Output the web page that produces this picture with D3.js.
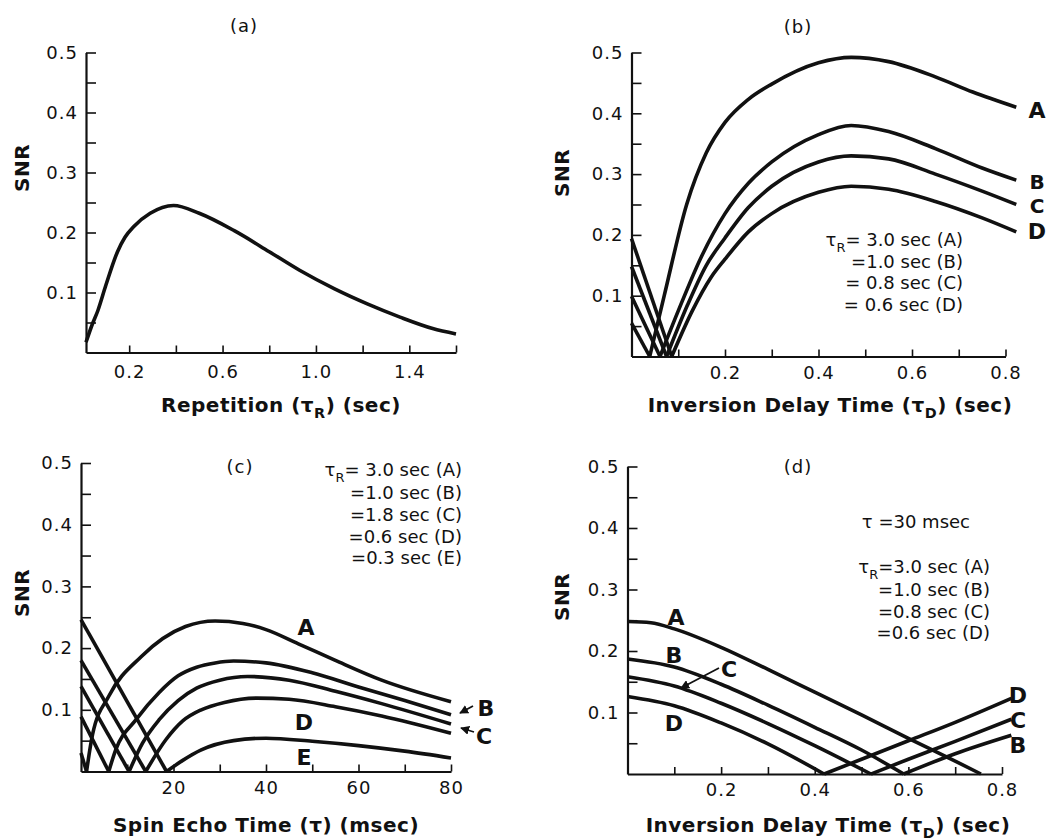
<!DOCTYPE html>
<html>
<head>
<meta charset="utf-8">
<script src="https://cdn.jsdelivr.net/npm/d3@7"></script>
<style>
    body { margin: 0; background: #fff; }
    svg { display: block; }
    .tick text { font-family: "DejaVu Sans", sans-serif; font-size: 18px; fill: #111; letter-spacing: 1px; }
    .tick line { stroke: #111; stroke-width: 1.6; }
    .domain { stroke: #111; stroke-width: 2.2; }
    .curve { fill: none; stroke: #111; stroke-width: 3.6; stroke-linejoin: round; }
    .title { font-family: "DejaVu Sans", sans-serif; font-size: 18px; fill: #111; letter-spacing: 1px; }
    .axis-title { font-family: "DejaVu Sans", sans-serif; font-weight: bold; font-size: 20px; fill: #111; letter-spacing: 0.5px; }
    .legend { font-family: "DejaVu Sans", sans-serif; font-size: 18px; fill: #111; }
    .tag { font-family: "DejaVu Sans", sans-serif; font-weight: bold; font-size: 22px; fill: #111; }
</style>
</head>
<body>
<svg id="chart" width="1050" height="840"></svg>
<script>
(function() {
    'use strict';

    // ---- (a) SNR vs repetition time
    const aTR  = [0.015, 0.04, 0.066, 0.1, 0.15, 0.182, 0.22, 0.29, 0.39, 0.5, 0.65, 0.8, 0.93, 1.08, 1.22, 1.36, 1.5, 1.6];
    const aSNR = [0.017, 0.045, 0.07, 0.112, 0.168, 0.192, 0.21, 0.232, 0.245, 0.232, 0.203, 0.168, 0.137, 0.106, 0.081, 0.059, 0.04, 0.031];

    // ---- (b) SNR vs inversion delay time, four repetition times
    const bTD_A  = [0, 0.039, 0.07, 0.118, 0.16, 0.2, 0.25, 0.3, 0.4, 0.47, 0.55, 0.65, 0.73, 0.823];
    const bSNR_A = [0.055, 0, 0.1, 0.25, 0.335, 0.385, 0.423, 0.448, 0.483, 0.492, 0.485, 0.46, 0.435, 0.41];
    const bTD_B  = [0, 0.061, 0.1, 0.15, 0.2, 0.25, 0.3, 0.4, 0.47, 0.55, 0.65, 0.75, 0.823];
    const bSNR_B = [0.099, 0, 0.075, 0.165, 0.235, 0.285, 0.32, 0.365, 0.38, 0.37, 0.342, 0.31, 0.29];
    const bTD_C  = [0, 0.075, 0.12, 0.16, 0.2, 0.25, 0.3, 0.4, 0.47, 0.55, 0.65, 0.75, 0.823];
    const bSNR_C = [0.148, 0, 0.085, 0.15, 0.195, 0.245, 0.28, 0.32, 0.33, 0.325, 0.3, 0.272, 0.25];
    const bTD_D  = [0, 0.086, 0.13, 0.17, 0.2, 0.25, 0.3, 0.4, 0.47, 0.55, 0.65, 0.75, 0.823];
    const bSNR_D = [0.194, 0, 0.075, 0.13, 0.16, 0.205, 0.235, 0.27, 0.28, 0.275, 0.255, 0.228, 0.205];

    // ---- (c) SNR vs spin echo time, five repetition times
    const cTE_A  = [0, 1.2, 2.5, 6, 13, 22.6, 29, 35, 40, 47, 55, 65, 80];
    const cSNR_A = [0.03, 0, 0.06, 0.122, 0.186, 0.235, 0.244, 0.24, 0.23, 0.207, 0.18, 0.148, 0.113];
    const cTE_B  = [0, 6, 7.5, 11.9, 16.9, 21, 25, 29, 33, 40, 50, 60, 70, 80];
    const cSNR_B = [0.089, 0, 0.035, 0.084, 0.128, 0.155, 0.169, 0.176, 0.179, 0.176, 0.16, 0.137, 0.115, 0.092];
    const cTE_C  = [0, 10.4, 13.3, 16.9, 21, 25, 30, 36, 45, 55, 65, 80];
    const cSNR_C = [0.138, 0, 0.046, 0.084, 0.115, 0.135, 0.148, 0.154, 0.148, 0.13, 0.11, 0.077];
    const cTE_D  = [0, 14, 18.3, 22, 26, 31, 38, 45, 55, 65, 80];
    const cSNR_D = [0.18, 0, 0.051, 0.082, 0.1, 0.112, 0.119, 0.117, 0.105, 0.09, 0.062];
    const cTE_E  = [0, 18.5, 22, 26, 33, 40, 50, 60, 70, 80];
    const cSNR_E = [0.246, 0, 0.018, 0.035, 0.05, 0.054, 0.049, 0.042, 0.033, 0.022];

    // ---- (d) SNR vs inversion delay time at tau = 30 msec
    const dTD_A  = [0, 0.05, 0.1, 0.2, 0.3, 0.4, 0.5, 0.6, 0.7, 0.755];
    const dSNR_A = [0.248, 0.246, 0.236, 0.206, 0.17, 0.133, 0.096, 0.058, 0.021, 0];
    const dTD_B  = [0, 0.1, 0.2, 0.3, 0.4, 0.5, 0.59, 0.7, 0.82];
    const dSNR_B = [0.187, 0.174, 0.146, 0.112, 0.076, 0.039, 0, 0.033, 0.063];
    const dTD_C  = [0, 0.1, 0.2, 0.3, 0.4, 0.52, 0.6, 0.7, 0.82];
    const dSNR_C = [0.158, 0.143, 0.115, 0.082, 0.046, 0, 0.024, 0.053, 0.089];
    const dTD_D  = [0, 0.1, 0.2, 0.3, 0.42, 0.5, 0.6, 0.7, 0.82];
    const dSNR_D = [0.126, 0.111, 0.083, 0.049, 0, 0.024, 0.054, 0.084, 0.123];

    // ticks
    const yTicks = [0.05, 0.1, 0.15, 0.2, 0.25, 0.3, 0.35, 0.4, 0.45, 0.5];
    const yLabels = [0.1, 0.2, 0.3, 0.4, 0.5];
    const aTicks = [0.2, 0.4, 0.6, 0.8, 1.0, 1.2, 1.4, 1.6];
    const aLabels = [0.2, 0.6, 1.0, 1.4];
    const tdTicks = [0.1, 0.2, 0.3, 0.4, 0.5, 0.6, 0.7, 0.8];
    const tdLabels = [0.2, 0.4, 0.6, 0.8];
    const teTicks = [10, 20, 30, 40, 50, 60, 70, 80];
    const teLabels = [20, 40, 60, 80];

    const svg = d3.select('#chart');

    // text with a tau and a subscript, parts = [[text, isSub], ...]
    function richText(sel, parts) {
        let sub = false;
        parts.forEach(([t, isSub]) => {
            const ts = sel.append('tspan').text(t);
            if (isSub && !sub) ts.attr('dy', 6).style('font-size', '0.72em');
            if (!isSub && sub) ts.attr('dy', -6);
            sub = isSub;
        });
        return sel;
    }

    function drawPanel(p) {
        const g = svg.append('g');
        const x = d3.scaleLinear().domain(p.xDomain).range(p.xRange);
        const y = d3.scaleLinear().domain([0, 0.5]).range(p.yRange);

        g.append('g')
            .attr('transform', `translate(${p.xRange[0]},0)`)
            .call(d3.axisLeft(y).tickValues(yTicks).tickSizeInner(-10).tickSizeOuter(0).tickPadding(8)
                .tickFormat(d => yLabels.includes(d) ? d3.format('.1f')(d) : ''));

        g.append('g')
            .attr('transform', `translate(0,${p.yRange[0]})`)
            .call(d3.axisBottom(x).tickValues(p.xTicks).tickSizeInner(-7).tickSizeOuter(0).tickPadding(p.xPad)
                .tickFormat(d => p.xLabels.includes(d) ? p.fmt(d) : ''));

        g.selectAll('.domain').attr('stroke-width', 2.2);

        const line = d3.line().x(d => x(d[0])).y(d => y(d[1])).curve(d3.curveMonotoneX);

        // split every curve at its null so the cusp stays sharp
        p.series.forEach(([xs, ys]) => {
            const pts = xs.map((v, i) => [v, ys[i]]);
            const k = ys.indexOf(0);
            const segs = (k > 0) ? [pts.slice(0, k + 1), pts.slice(k)] : [pts];
            segs.filter(s => s.length > 1).forEach(s => {
                g.append('path').attr('class', 'curve').attr('d', line(s));
            });
        });

        g.append('text').attr('class', 'title')
            .attr('x', p.title[1]).attr('y', p.title[2]).attr('text-anchor', 'middle').text(p.title[0]);

        g.append('text').attr('class', 'axis-title')
            .attr('transform', `translate(${p.snrPos[0]},${p.snrPos[1]}) rotate(-90)`)
            .attr('text-anchor', 'middle').attr('dominant-baseline', 'central').text('SNR');

        richText(g.append('text').attr('class', 'axis-title')
            .attr('x', p.xTitlePos[0]).attr('y', p.xTitlePos[1]).attr('text-anchor', 'middle'), p.xTitle);

        p.tags.forEach(([t, tx, ty, fs]) => {
            g.append('text').attr('class', 'tag').attr('x', tx).attr('y', ty)
                .style('font-size', (fs || 22) + 'px')
                .attr('text-anchor', 'middle').attr('dominant-baseline', 'central').text(t);
        });

        (p.legend || []).forEach(([parts, lx, ly]) => {
            richText(g.append('text').attr('class', 'legend').attr('x', lx).attr('y', ly)
                .attr('text-anchor', 'end'), parts);
        });
        return g;
    }

    drawPanel({
        xDomain: [0.015, 1.6], xRange: [86, 456], yRange: [352.5, 52.5],
        xTicks: aTicks, xLabels: aLabels, fmt: d3.format('.1f'), xPad: 13,
        series: [[aTR, aSNR]],
        title: ['(a)', 244, 32], snrPos: [22, 168],
        xTitle: [['Repetition (τ', false], ['R', true], [') (sec)', false]], xTitlePos: [281, 412],
        tags: []
    });

    drawPanel({
        xDomain: [0, 0.8], xRange: [631.5, 1005.5], yRange: [356.5, 52.5],
        xTicks: tdTicks, xLabels: tdLabels, fmt: d3.format('.1f'), xPad: 10,
        series: [[bTD_A, bSNR_A], [bTD_B, bSNR_B], [bTD_C, bSNR_C], [bTD_D, bSNR_D]],
        title: ['(b)', 798, 33], snrPos: [562, 173],
        xTitle: [['Inversion Delay Time (τ', false], ['D', true], [') (sec)', false]], xTitlePos: [830, 412],
        tags: [['A', 1037, 110], ['B', 1037, 182, 20], ['C', 1037, 206, 20], ['D', 1037, 231]],
        legend: [
            [[['τ', false], ['R', true], ['= 3.0 sec (A)', false]], 963, 246],
            [[['=1.0 sec (B)', false]], 963, 268],
            [[['= 0.8 sec (C)', false]], 963, 289],
            [[['= 0.6 sec (D)', false]], 963, 311]
        ]
    });

    const gc = drawPanel({
        xDomain: [0, 80], xRange: [81, 451], yRange: [771.5, 463],
        xTicks: teTicks, xLabels: teLabels, fmt: d3.format('d'), xPad: 10,
        series: [[cTE_A, cSNR_A], [cTE_B, cSNR_B], [cTE_C, cSNR_C], [cTE_D, cSNR_D], [cTE_E, cSNR_E]],
        title: ['(c)', 240, 473], snrPos: [22, 593],
        xTitle: [['Spin Echo Time (τ) (msec)', false]], xTitlePos: [266, 832],
        tags: [['A', 306, 627], ['D', 304, 722], ['E', 304, 757], ['B', 486, 708], ['C', 484, 736]],
        legend: [
            [[['τ', false], ['R', true], ['= 3.0 sec (A)', false]], 462, 476],
            [[['=1.0 sec (B)', false]], 462, 499],
            [[['=1.8 sec (C)', false]], 462, 521],
            [[['=0.6 sec (D)', false]], 462, 543],
            [[['=0.3 sec (E)', false]], 462, 564]
        ]
    });

    const gd = drawPanel({
        xDomain: [0, 0.8], xRange: [627.5, 1002], yRange: [774, 466.5],
        xTicks: tdTicks, xLabels: tdLabels, fmt: d3.format('.1f'), xPad: 9,
        series: [[dTD_A, dSNR_A], [dTD_B, dSNR_B], [dTD_C, dSNR_C], [dTD_D, dSNR_D]],
        title: ['(d)', 798, 473], snrPos: [562, 597],
        xTitle: [['Inversion Delay Time (τ', false], ['D', true], [') (sec)', false]], xTitlePos: [828, 832],
        tags: [['A', 676, 617], ['B', 674, 655], ['C', 729, 669], ['D', 674, 723],
               ['D', 1018, 695], ['C', 1018, 720], ['B', 1018, 745]],
        legend: [
            [[['τ =30 msec', false]], 970, 528],
            [[['τ', false], ['R', true], ['=3.0 sec (A)', false]], 990, 573],
            [[['=1.0 sec (B)', false]], 990, 596],
            [[['=0.8 sec (C)', false]], 990, 618],
            [[['=0.6 sec (D)', false]], 990, 639]
        ]
    });

    // pointer arrows next to the labels
    svg.append('defs').append('marker')
        .attr('id', 'head').attr('viewBox', '0 0 10 10').attr('refX', 9).attr('refY', 5)
        .attr('markerWidth', 5).attr('markerHeight', 5).attr('orient', 'auto')
        .append('path').attr('d', 'M0,0L10,5L0,10Z').attr('fill', '#111');

    const pointers = [
        [gc, 473, 706, 460, 713],
        [gc, 474, 732, 461, 728],
        [gd, 719, 668, 681, 688]
    ];
    pointers.forEach(([g, x1, y1, x2, y2]) => {
        g.append('line').attr('x1', x1).attr('y1', y1).attr('x2', x2).attr('y2', y2)
            .attr('stroke', '#111').attr('stroke-width', 1.8).attr('marker-end', 'url(#head)');
    });
})();
</script>
</body>
</html>
